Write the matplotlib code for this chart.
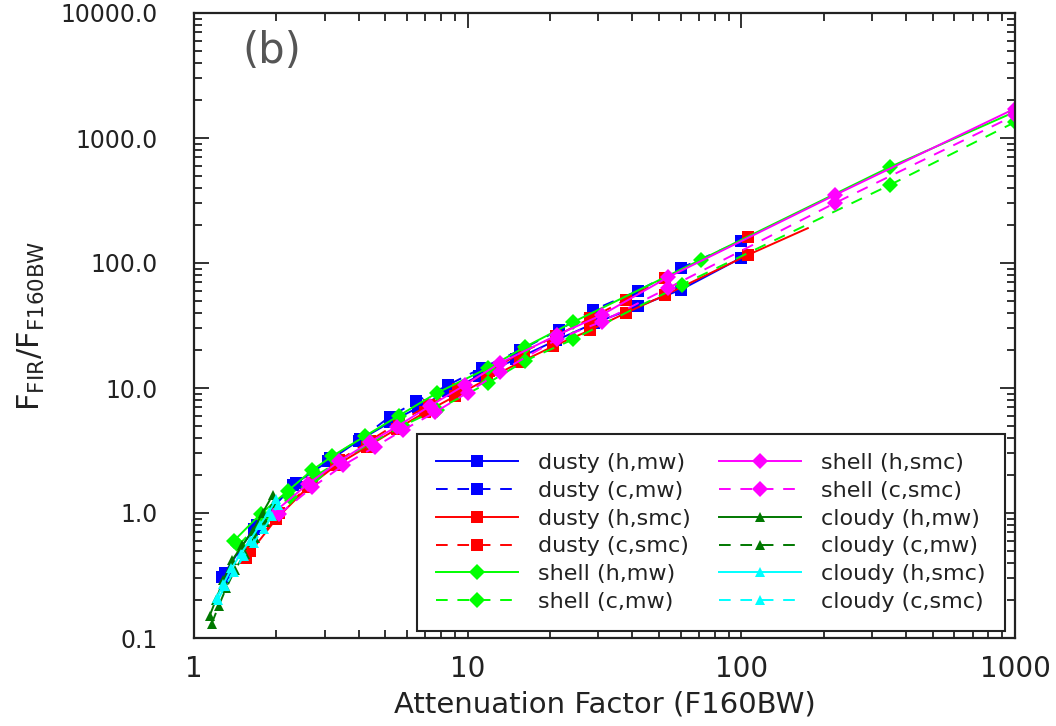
import matplotlib
matplotlib.use('Agg')
import matplotlib.pyplot as plt
from matplotlib.ticker import FixedLocator, FixedFormatter, LogLocator, NullFormatter

# ---- data (attenuation factor vs F_FIR / F_F160BW) ----
dusty_h_mw_x = [1.27, 1.65, 2.3, 3.1, 4.0, 5.2, 6.6, 8.5, 11, 15, 21, 29, 42, 60, 100]
dusty_h_mw_y = [0.31, 0.75, 1.67, 2.6, 3.8, 5.3, 7.0, 9.4, 12.5, 17, 24, 33, 45, 61, 110]

dusty_c_mw_x = [1.3, 1.7, 2.35, 3.15, 4.05, 5.2, 6.5, 8.5, 11.3, 15.5, 21.5, 28.7, 42, 60, 100]
dusty_c_mw_y = [0.33, 0.8, 1.75, 2.75, 3.9, 5.9, 7.8, 10.6, 14.5, 20, 29, 42, 60, 91, 150]

dusty_h_smc_x = [1.55, 2.0, 2.6, 3.3, 4.3, 5.5, 7.0, 9.0, 11.8, 15.5, 20.5, 28, 38, 52.7, 105.7, 175]
dusty_h_smc_y = [0.44, 0.9, 1.6, 2.4, 3.4, 4.7, 6.4, 8.6, 11.8, 16, 21.5, 29, 40, 55.5, 116, 190]

dusty_c_smc_x = [1.6, 2.05, 2.7, 3.4, 4.4, 5.6, 7.2, 9.2, 12, 16, 21, 28, 38, 52.7, 105.7]
dusty_c_smc_y = [0.5, 1.0, 1.75, 2.65, 3.8, 5.3, 7.3, 9.9, 13.8, 19.5, 26, 36, 51, 75.9, 161]

shell_h_mw_x = [1.4, 1.75, 2.2, 2.7, 3.2, 4.2, 5.6, 7.7, 11.9, 16.2, 24.3, 71, 349, 1000]
shell_h_mw_y = [0.6, 0.98, 1.5, 2.2, 2.85, 4.1, 6.0, 9.1, 14.5, 21.3, 33.7, 106, 586, 1620]

shell_c_mw_x = [1.45, 1.8, 2.25, 2.8, 3.4, 4.4, 5.8, 7.7, 11.9, 16.2, 24.3, 60.6, 349, 1000]
shell_c_mw_y = [0.55, 0.9, 1.35, 2.0, 2.6, 3.6, 5.0, 6.7, 11, 16.5, 24.5, 67, 421, 1340]

shell_h_smc_x = [2.0, 2.6, 3.4, 4.4, 5.5, 7.3, 9.8, 13.1, 21.2, 30.9, 54, 220, 1000]
shell_h_smc_y = [1.05, 1.7, 2.6, 3.7, 4.9, 7.2, 10.6, 15.8, 26.5, 38.4, 77, 350, 1720]

shell_c_smc_x = [2.05, 2.7, 3.5, 4.6, 5.8, 7.6, 10, 13.1, 21.2, 30.9, 54, 220, 1000]
shell_c_smc_y = [0.98, 1.6, 2.4, 3.4, 4.6, 6.4, 9.2, 13.4, 24.5, 34, 63, 302, 1520]

cloudy_h_mw_x = [1.14, 1.2, 1.28, 1.38, 1.5, 1.64, 1.78, 1.94]
cloudy_h_mw_y = [0.15, 0.2, 0.29, 0.42, 0.55, 0.72, 1.0, 1.4]

cloudy_c_mw_x = [1.16, 1.23, 1.31, 1.41, 1.53, 1.67, 1.82, 1.96]
cloudy_c_mw_y = [0.13, 0.18, 0.25, 0.35, 0.47, 0.63, 0.85, 1.2]

cloudy_h_smc_x = [1.21, 1.28, 1.37, 1.48, 1.6, 1.74, 1.88, 2.0]
cloudy_h_smc_y = [0.21, 0.27, 0.36, 0.47, 0.6, 0.8, 1.02, 1.3]

cloudy_c_smc_x = [1.22, 1.3, 1.4, 1.52, 1.65, 1.8, 1.93, 2.02]
cloudy_c_smc_y = [0.2, 0.26, 0.34, 0.45, 0.58, 0.75, 0.95, 1.15]

labels = ['dusty (h,mw)', 'dusty (c,mw)', 'dusty (h,smc)', 'dusty (c,smc)',
          'shell (h,mw)', 'shell (c,mw)', 'shell (h,smc)', 'shell (c,smc)',
          'cloudy (h,mw)', 'cloudy (c,mw)', 'cloudy (h,smc)', 'cloudy (c,smc)']

xticks = [1, 10, 100, 1000]
xticklabels = ['1', '10', '100', '1000']
yticks = [0.1, 1, 10, 100, 1000, 10000]
yticklabels = ['0.1', '1.0', '10.0', '100.0', '1000.0', '10000.0']

xs = [dusty_h_mw_x, dusty_c_mw_x, dusty_h_smc_x, dusty_c_smc_x,
      shell_h_mw_x, shell_c_mw_x, shell_h_smc_x, shell_c_smc_x,
      cloudy_h_mw_x, cloudy_c_mw_x, cloudy_h_smc_x, cloudy_c_smc_x]
ys = [dusty_h_mw_y, dusty_c_mw_y, dusty_h_smc_y, dusty_c_smc_y,
      shell_h_mw_y, shell_c_mw_y, shell_h_smc_y, shell_c_smc_y,
      cloudy_h_mw_y, cloudy_c_mw_y, cloudy_h_smc_y, cloudy_c_smc_y]

colors = ['#0000ff', '#0000ff', '#ff0000', '#ff0000',
          '#00ff00', '#00ff00', '#ff00ff', '#ff00ff',
          '#007800', '#007800', '#00ffff', '#00ffff']
markers = ['s', 's', 's', 's', 'D', 'D', 'D', 'D', '^', '^', '^', '^']
msizes = [8.5, 8.5, 8.5, 8.5, 8.5, 8.5, 8.5, 8.5, 7.5, 7.5, 7.5, 7.5]
dashed = (0, (6, 5))
styles = ['-', dashed] * 6

fig = plt.figure(figsize=(10.56, 7.26), dpi=100)
ax = fig.add_axes([194 / 1056, 1 - 638 / 726, (1015 - 194) / 1056, (638 - 13) / 726])

for i in range(len(labels)):
    # red solid line runs past its last marker
    mev = list(range(len(xs[i]) - 1)) if labels[i] == 'dusty (h,smc)' else None
    ax.plot(xs[i], ys[i], color=colors[i], linestyle=styles[i], linewidth=1.4,
            marker=markers[i], markersize=msizes[i], markeredgewidth=0,
            markevery=mev, label=labels[i])

ax.set_xscale('log')
ax.set_yscale('log')
ax.set_xlim(1, 1000)
ax.set_ylim(0.1, 10000)

ax.xaxis.set_major_locator(FixedLocator(xticks))
ax.xaxis.set_major_formatter(FixedFormatter(xticklabels))
ax.yaxis.set_major_locator(FixedLocator(yticks))
ax.yaxis.set_major_formatter(FixedFormatter(yticklabels))
ax.xaxis.set_minor_locator(LogLocator(base=10, subs=range(2, 10)))
ax.yaxis.set_minor_locator(LogLocator(base=10, subs=range(2, 10)))
ax.xaxis.set_minor_formatter(NullFormatter())
ax.yaxis.set_minor_formatter(NullFormatter())

ax.tick_params(which='both', direction='in', top=True, right=True, width=1.3, color='#222222')
ax.tick_params(which='major', length=11)
ax.tick_params(which='minor', length=6)
ax.tick_params(axis='x', which='major', pad=12, labelsize=20, labelcolor='#222222')
ax.tick_params(axis='y', which='major', pad=26, labelsize=17, labelcolor='#222222')
for sp in ax.spines.values():
    sp.set_linewidth(1.6)
    sp.set_color('#222222')

ax.set_xlabel('Attenuation Factor (F160BW)', fontsize=21, color='#222222', labelpad=6)
ax.set_ylabel(r'$\mathregular{F_{FIR}/F_{F160BW}}$', fontsize=22, color='#222222', labelpad=10)

ax.text(0.095, 0.94, '(b)', transform=ax.transAxes, fontsize=30, color='#555555',
        ha='center', va='center')

leg = ax.legend(ncol=2, loc='lower right', bbox_to_anchor=(1005 / 1056, 1 - 631 / 726),
                bbox_transform=fig.transFigure, borderaxespad=0, fontsize=16,
                handlelength=3.7, handletextpad=0.9, columnspacing=1.26,
                labelspacing=0.35, borderpad=0.86, numpoints=1, fancybox=False,
                framealpha=1, edgecolor='#222222')
leg.get_frame().set_linewidth(1.5)
for t in leg.get_texts():
    t.set_color('#222222')

fig.savefig('out.png', dpi=100)
